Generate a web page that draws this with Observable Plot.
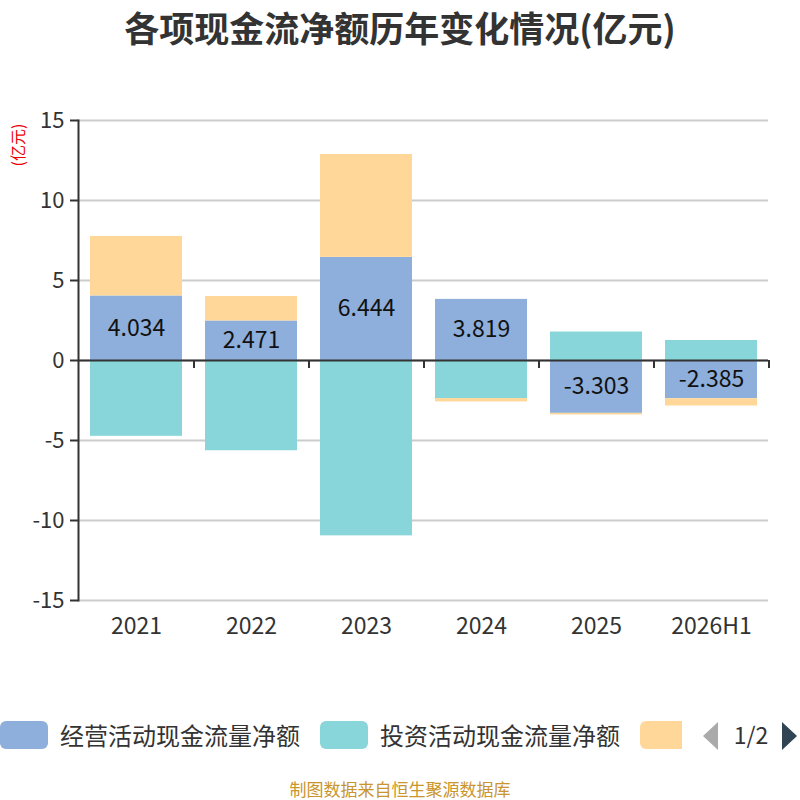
<!DOCTYPE html>
<html><head><meta charset="utf-8">
<script src="https://cdn.jsdelivr.net/npm/d3@7"></script>
<script src="https://cdn.jsdelivr.net/npm/@observablehq/plot@0.6"></script>
<style>
body{margin:0;background:#fff;font-family:"Noto Sans CJK SC","Noto Sans",sans-serif;}
#wrap{position:relative;width:800px;height:800px;overflow:hidden;}
#title{position:absolute;left:0;top:1px;width:800px;text-align:center;font-weight:bold;font-size:35px;color:#333;}
#unit{position:absolute;left:17px;top:145px;transform:translate(-50%,-50%) rotate(-90deg);color:#e00;font-size:16px;white-space:nowrap;}
#chart{position:absolute;left:0;top:0;}
#legend{position:absolute;left:0;top:721px;height:28px;width:800px;}
.sw{position:absolute;top:0;width:48px;height:28px;border-radius:6px;}
.lt{position:absolute;top:-3px;font-size:24px;color:#333;white-space:nowrap;line-height:34px;}
#caption{position:absolute;left:0;top:779px;width:800px;text-align:center;color:#c9952c;font-size:17px;line-height:20px;}
</style></head>
<body><div id="wrap">
<div id="chart"></div>
<div id="title">各项现金流净额历年变化情况(亿元)</div>
<div id="unit">(亿元)</div>
<div id="legend"></div>
<div id="caption">制图数据来自恒生聚源数据库</div>
</div>
<script>
const years = ["2021","2022","2023","2024","2025","2026H1"];
const seriesNames = ["经营活动现金流量净额","投资活动现金流量净额","筹资活动现金流量净额"];
const colors = ["#8eaedb","#88d6d9","#ffd899"];
const operating = [4.034, 2.471, 6.444, 3.819, -3.303, -2.385];
const investing = [-4.74, -5.64, -10.96, -2.38, 1.78, 1.25];
const financing = [3.72, 1.53, 6.43, -0.21, -0.10, -0.46];
const yTicks = [-15,-10,-5,0,5,10,15];

const rows = [];
const all = [operating, investing, financing];
years.forEach((y,i)=>{
  all.forEach((arr,s)=>rows.push({year:y, series:seriesNames[s], value:arr[i]}));
});
const labelRows = years.map((y,i)=>({year:y, value:operating[i]}));

const step = 690/6;
const chart = Plot.plot({
  width:800, height:660,
  marginTop:120, marginBottom:60, marginLeft:78, marginRight:32,
  style:{fontFamily:'"Noto Sans CJK SC","Noto Sans",sans-serif', background:"transparent"},
  x:{domain:years, paddingInner:0.2, paddingOuter:0.1, label:null},
  y:{domain:[-15,15], label:null},
  color:{domain:seriesNames, range:colors},
  marks:[
    Plot.gridY(yTicks,{stroke:"#cccccc", strokeOpacity:1, strokeWidth:2}),
    Plot.barY(rows, Plot.stackY({x:"year", y:"value", fill:"series", z:"series", order:null})),
    Plot.text(labelRows,{x:"year", y:d=>d.value/2, text:d=>d.value.toFixed(3), fontSize:23, fill:"#111"}),
    Plot.ruleY([0],{stroke:"#333", strokeWidth:2}),
    Plot.ruleX(years,{x:d=>d, dx:step/2, y1:0, y2:-0.5, stroke:"#333", strokeWidth:2}),
    Plot.frame({anchor:"left", stroke:"#333", strokeWidth:2}),
    Plot.axisY(yTicks,{tickSize:8, tickPadding:6, fontSize:22, fill:"#333", stroke:"#333", strokeWidth:2, label:null, tickFormat:d=>String(d)}),
    Plot.axisX({tickSize:0, tickPadding:17, fontSize:23, fill:"#333", label:null})
  ]
});
document.getElementById("chart").appendChild(chart);

const lg = document.getElementById("legend");
const items = [
  {x:0, tx:60, c:colors[0], t:seriesNames[0]},
  {x:320, tx:380, c:colors[1], t:seriesNames[1]}
];
items.forEach(it=>{
  const s=document.createElement("div");s.className="sw";s.style.left=it.x+"px";s.style.background=it.c;lg.appendChild(s);
  const t=document.createElement("div");t.className="lt";t.style.left=it.tx+"px";t.textContent=it.t;lg.appendChild(t);
});
const s3=document.createElement("div");s3.className="sw";s3.style.left="640px";s3.style.width="42px";s3.style.borderRadius="6px 0 0 6px";s3.style.background=colors[2];lg.appendChild(s3);
lg.insertAdjacentHTML("beforeend",
 '<svg style="position:absolute;left:700px;top:-4px" width="100" height="38">'+
 '<polygon points="18,5 18,33 3,19" fill="#aaaaaa"/>'+
 '<text x="51" y="27" text-anchor="middle" font-size="23" fill="#333" font-family="Noto Sans CJK SC,Noto Sans,sans-serif">1/2</text>'+
 '<polygon points="82,5 82,33 97,19" fill="#2f4554"/></svg>');
</script>
</body></html>
